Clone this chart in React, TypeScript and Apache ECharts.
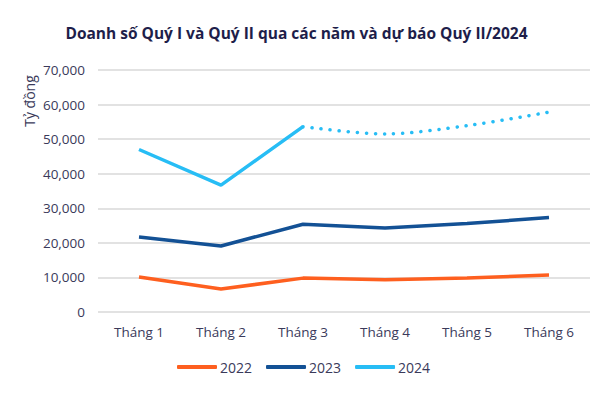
import React, { useEffect, useRef } from "react";
import * as echarts from "echarts";

const categories = ["Tháng 1", "Tháng 2", "Tháng 3", "Tháng 4", "Tháng 5", "Tháng 6"];
const s2022 = [10100, 6650, 9800, 9300, 9800, 10700];
const s2023 = [21700, 19100, 25400, 24300, 25600, 27300];
const s2024Actual: (number | null)[] = [47000, 36700, 53600, null, null, null];
const s2024Forecast: (number | null)[] = [null, null, 53600, 51500, 53900, 57800];

const TEXT = "#3a3a5a";
const FONT = "'Open Sans', 'Noto Sans', sans-serif";

export default function App() {
  const ref = useRef<HTMLDivElement>(null);
  useEffect(() => {
    if (!ref.current) return;
    const chart = echarts.init(ref.current, undefined, { renderer: "svg" });
    chart.setOption({
      animation: false,
      backgroundColor: "#ffffff",
      title: {
        text: "Doanh số Quý I và Quý II qua các năm và dự báo Quý II/2024",
        left: "center",
        top: 20,
        textStyle: { fontFamily: FONT, fontSize: 15.5, fontWeight: 700, color: "#1e1e4a" },
      },
      grid: { left: 98, right: 3, top: 70, bottom: 83 },
      legend: {
        data: ["2022", "2023", "2024"],
        bottom: 16,
        left: 172,
        icon: "roundRect",
        itemWidth: 40,
        itemHeight: 4,
        itemGap: 14,
        textStyle: { fontFamily: FONT, fontSize: 14, color: TEXT, padding: [0, 0, 0, -2] },
      },
      xAxis: {
        type: "category",
        data: categories,
        boundaryGap: true,
        axisLine: { show: false },
        axisTick: { show: false },
        axisLabel: { fontFamily: FONT, fontSize: 13.5, color: TEXT, margin: 13 },
      },
      yAxis: {
        type: "value",
        min: 0,
        max: 70000,
        interval: 10000,
        axisLine: { show: false },
        axisTick: { show: false },
        axisLabel: {
          fontFamily: FONT,
          fontSize: 13.5,
          color: TEXT,
          margin: 13,
          formatter: (v: number) => v.toLocaleString("en-US"),
        },
        splitLine: { lineStyle: { color: "#d9d9d9", width: 1.5 } },
      },
      graphic: [
        {
          type: "text",
          x: 29,
          y: 101,
          rotation: Math.PI / 2,
          style: {
            text: "Tỷ đồng",
            fontFamily: FONT,
            fontSize: 14,
            fill: TEXT,
            align: "center",
            verticalAlign: "middle",
          },
        },
      ],
      series: [
        {
          name: "2022",
          type: "line",
          data: s2022,
          showSymbol: false,
          symbol: "none",
          lineStyle: { color: "#fe5f1f", width: 3.5 },
          itemStyle: { color: "#fe5f1f" },
        },
        {
          name: "2023",
          type: "line",
          data: s2023,
          showSymbol: false,
          symbol: "none",
          lineStyle: { color: "#135195", width: 3.5 },
          itemStyle: { color: "#135195" },
        },
        {
          name: "2024",
          type: "line",
          data: s2024Actual,
          showSymbol: false,
          symbol: "none",
          lineStyle: { color: "#27bdf5", width: 3.5 },
          itemStyle: { color: "#27bdf5" },
        },
        {
          name: "2024 dự báo",
          type: "line",
          data: s2024Forecast,
          showSymbol: false,
          symbol: "none",
          smooth: 0.3,
          lineStyle: { color: "#27bdf5", width: 3.5, type: [0.1, 9], cap: "round" },
          itemStyle: { color: "#27bdf5" },
        },
      ],
    });
    return () => chart.dispose();
  }, []);
  return <div ref={ref} style={{ width: 593, height: 395, position: "absolute", left: 0, top: 0 }} />;
}
